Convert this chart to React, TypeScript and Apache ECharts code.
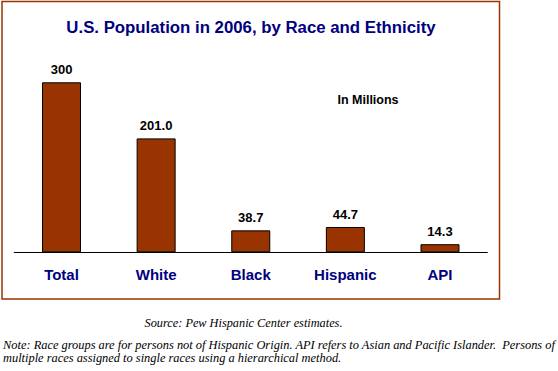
import React, { useEffect, useRef } from "react";
import * as echarts from "echarts";

const categories = ["Total", "White", "Black", "Hispanic", "API"];
const values = [300, 201.0, 38.7, 44.7, 14.3];
const valueLabels = ["300", "201.0", "38.7", "44.7", "14.3"];

export default function App() {
  const ref = useRef<HTMLDivElement>(null);
  useEffect(() => {
    const chart = echarts.init(ref.current!, null, { renderer: "svg" });
    chart.setOption({
      animation: false,
      backgroundColor: "#ffffff",
      grid: { left: 14.2, right: 70.7, top: 82.3, bottom: 118.7, containLabel: false },
      xAxis: {
        type: "category",
        data: categories,
        axisLine: { lineStyle: { color: "#000000", width: 1 } },
        axisTick: { show: false },
        axisLabel: {
          margin: 15,
          color: "#000080",
          fontFamily: "Liberation Sans, Arial, sans-serif",
          fontWeight: "bold",
          fontSize: 15,
        },
      },
      yAxis: {
        type: "value",
        min: 0,
        max: 300,
        show: false,
        splitLine: { show: false },
      },
      series: [
        {
          type: "bar",
          data: values,
          barWidth: 39,
          itemStyle: { color: "#993300", borderColor: "#000000", borderWidth: 1 },
          label: {
            show: true,
            position: "top",
            distance: 6,
            color: "#000000",
            fontFamily: "Liberation Sans, Arial, sans-serif",
            fontWeight: "bold",
            fontSize: 13,
            formatter: (p: any) => valueLabels[p.dataIndex],
          },
        },
      ],
      graphic: [
        {
          type: "rect",
          shape: { x: 2, y: 1.5, width: 497.5, height: 297.5 },
          style: { fill: "none", stroke: "#993300", lineWidth: 1.5 },
          silent: true,
        },
        {
          type: "text",
          x: 251,
          y: 27.5,
          style: {
            text: "U.S. Population in 2006, by Race and Ethnicity",
            fill: "#000080",
            font: "bold 16.8px 'Liberation Sans', Arial, sans-serif",
            align: "center",
            verticalAlign: "middle",
          },
        },
        {
          type: "text",
          x: 368,
          y: 99.5,
          style: {
            text: "In Millions",
            fill: "#000000",
            font: "bold 12.5px 'Liberation Sans', Arial, sans-serif",
            align: "center",
            verticalAlign: "middle",
          },
        },
        {
          type: "text",
          x: 243.5,
          y: 323,
          style: {
            text: "Source: Pew Hispanic Center estimates.",
            fill: "#000000",
            font: "italic 12.3px 'Liberation Serif', 'Times New Roman', serif",
            align: "center",
            verticalAlign: "middle",
          },
        },
        {
          type: "text",
          x: 3,
          y: 344.5,
          style: {
            text: "Note: Race groups are for persons not of Hispanic Origin. API refers to Asian and Pacific Islander.  Persons of",
            fill: "#000000",
            font: "italic 12.4px 'Liberation Serif', 'Times New Roman', serif",
            align: "left",
            verticalAlign: "middle",
          },
        },
        {
          type: "text",
          x: 3,
          y: 357.5,
          style: {
            text: "multiple races assigned to single races using a hierarchical method.",
            fill: "#000000",
            font: "italic 12.4px 'Liberation Serif', 'Times New Roman', serif",
            align: "left",
            verticalAlign: "middle",
          },
        },
      ],
    });
    return () => chart.dispose();
  }, []);
  return (
    <div
      ref={ref}
      style={{ position: "fixed", left: 0, top: 0, width: 558, height: 371 }}
    />
  );
}
